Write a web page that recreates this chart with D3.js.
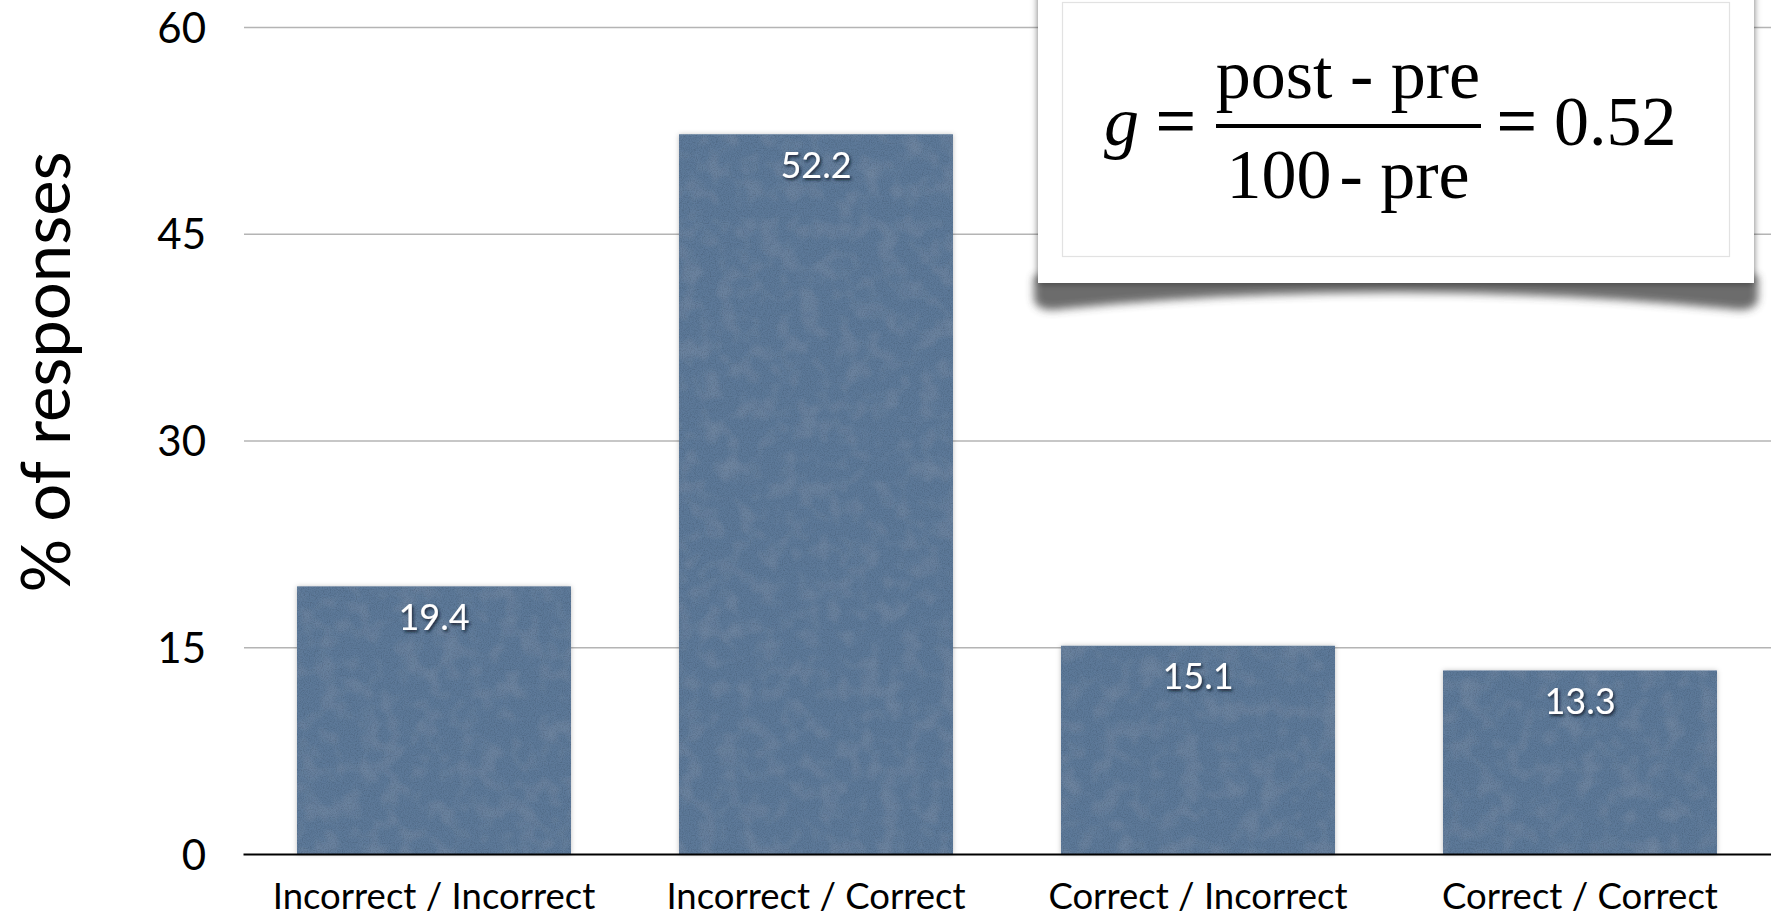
<!DOCTYPE html>
<html>
<head>
<meta charset="utf-8">
<script src="https://cdn.jsdelivr.net/npm/d3@7"></script>
<style>
  html, body { margin: 0; padding: 0; background: #fff; }
  svg { display: block; }
</style>
</head>
<body>
<svg id="chart" width="1771" height="917" font-family="Lato, 'Open Sans', sans-serif"></svg>
<script>
// Response transitions (pre / post), % of responses
const categories = ["Incorrect / Incorrect", "Incorrect / Correct", "Correct / Incorrect", "Correct / Correct"];
const values = [19.4, 52.2, 15.1, 13.3];
const yTicks = [0, 15, 30, 45, 60];
const yTitle = "% of responses";
const gainValue = "0.52";

const plot = { left: 243, right: 1771, top: 27, bottom: 854 };
const sans = "Lato, 'Open Sans', sans-serif";
const serif = "'Liberation Serif', 'Times New Roman', serif";

const svg = d3.select("#chart");
const defs = svg.append("defs");

// grainy paper texture for the bars
const tex = defs.append("filter").attr("id", "grain")
  .attr("x", 0).attr("y", 0).attr("width", 1).attr("height", 1);
tex.append("feTurbulence").attr("type", "fractalNoise")
  .attr("baseFrequency", 0.85).attr("numOctaves", 2).attr("seed", 4).attr("result", "fine");
tex.append("feColorMatrix").attr("in", "fine").attr("type", "matrix")
  .attr("values", "0 0 0 0 0  0 0 0 0 0  0 0 0 0 0  0 0 0 -0.6 0.36").attr("result", "fineA");
tex.append("feTurbulence").attr("type", "fractalNoise")
  .attr("baseFrequency", 0.05).attr("numOctaves", 2).attr("seed", 9).attr("result", "coarse");
tex.append("feColorMatrix").attr("in", "coarse").attr("type", "matrix")
  .attr("values", "0 0 0 0 1  0 0 0 0 1  0 0 0 0 1  0 0 0 -0.12 0.07").attr("result", "coarseA");
tex.append("feComposite").attr("in", "fineA").attr("in2", "SourceGraphic").attr("operator", "in").attr("result", "fineIn");
tex.append("feComposite").attr("in", "coarseA").attr("in2", "SourceGraphic").attr("operator", "in").attr("result", "coarseIn");
const texMerge = tex.append("feMerge");
texMerge.append("feMergeNode").attr("in", "SourceGraphic");
texMerge.append("feMergeNode").attr("in", "coarseIn");
texMerge.append("feMergeNode").attr("in", "fineIn");

// soft shadow behind the bars
const barShadow = defs.append("filter").attr("id", "barShadow")
  .attr("x", -0.1).attr("y", -0.1).attr("width", 1.2).attr("height", 1.2);
barShadow.append("feDropShadow").attr("dx", 0).attr("dy", 0)
  .attr("stdDeviation", 2.5).attr("flood-color", "#000").attr("flood-opacity", 0.25);

// text shadow for the value labels
const txtShadow = defs.append("filter").attr("id", "txtShadow")
  .attr("x", -0.3).attr("y", -0.3).attr("width", 1.6).attr("height", 1.6);
txtShadow.append("feDropShadow").attr("dx", 1.5).attr("dy", 2)
  .attr("stdDeviation", 1.6).attr("flood-color", "#0b1526").attr("flood-opacity", 0.85);

// shadows for the formula card
const cardShadow = defs.append("filter").attr("id", "cardShadow")
  .attr("x", -0.05).attr("y", -0.1).attr("width", 1.1).attr("height", 1.2);
cardShadow.append("feDropShadow").attr("dx", 0).attr("dy", 0)
  .attr("stdDeviation", 3.5).attr("flood-color", "#000").attr("flood-opacity", 0.55);
const curlBlur = defs.append("filter").attr("id", "curlBlur")
  .attr("x", -0.1).attr("y", -1).attr("width", 1.2).attr("height", 3);
curlBlur.append("feGaussianBlur").attr("stdDeviation", 4);

// scales
const y = d3.scaleLinear().domain([0, 60]).range([plot.bottom, plot.top]);
const x = d3.scaleBand().domain(categories)
  .range([plot.left, plot.right])
  .paddingInner(0.283).paddingOuter(0.1415);

// y axis with full-width gridlines
const yAxis = svg.append("g")
  .attr("transform", `translate(${plot.left + 1},0)`)
  .call(d3.axisLeft(y).tickValues(yTicks)
    .tickSizeInner(-(plot.right - plot.left)).tickSizeOuter(0).tickPadding(38));
yAxis.select(".domain").remove();
yAxis.selectAll(".tick line").attr("stroke", "#b4b4b4").attr("stroke-width", 1.6);
yAxis.selectAll(".tick text")
  .attr("font-family", sans).attr("font-size", 42)
  .attr("fill", "#000").attr("dy", "0.36em");
yAxis.selectAll(".tick").filter(d => d === 0).select("line").remove();

// y title
svg.append("text")
  .attr("transform", "translate(70,372) rotate(-90)")
  .attr("text-anchor", "middle")
  .attr("font-family", sans)
  .attr("font-size", 67)
  .attr("fill", "#000")
  .text(yTitle);

// bars
svg.append("g").selectAll("rect")
  .data(values)
  .join("rect")
  .attr("x", (d, i) => x(categories[i]))
  .attr("y", d => y(d))
  .attr("width", x.bandwidth())
  .attr("height", d => y(0) - y(d))
  .attr("fill", "#5d7999")
  .attr("filter", "url(#barShadow)");
svg.append("g").selectAll("rect")
  .data(values)
  .join("rect")
  .attr("x", (d, i) => x(categories[i]))
  .attr("y", d => y(d))
  .attr("width", x.bandwidth())
  .attr("height", d => y(0) - y(d))
  .attr("fill", "#5d7999")
  .attr("filter", "url(#grain)");

// value labels
svg.append("g").selectAll("text")
  .data(values)
  .join("text")
  .attr("x", (d, i) => x(categories[i]) + x.bandwidth() / 2)
  .attr("y", d => y(d) + 43)
  .attr("text-anchor", "middle")
  .attr("font-family", sans)
  .attr("font-size", 36)
  .attr("fill", "#fff")
  .attr("filter", "url(#txtShadow)")
  .text(d => d.toFixed(1));

// x axis
const xAxis = svg.append("g")
  .attr("transform", `translate(0,${plot.bottom})`)
  .call(d3.axisBottom(x).tickSize(0).tickPadding(29));
xAxis.select(".domain").attr("stroke", "#000").attr("stroke-width", 2);
xAxis.selectAll(".tick text")
  .attr("font-family", sans).attr("font-size", 36.5).attr("fill", "#000");

// gain formula card
const card = svg.append("g");
card.append("path")
  .attr("d", "M1034,276 L1034,300 Q1038,313 1062,309 Q1396,276 1730,309 Q1754,313 1758,300 L1758,276 Z")
  .attr("fill", "#3a3a3a").attr("opacity", 0.75)
  .attr("filter", "url(#curlBlur)");
card.append("rect")
  .attr("x", 1038).attr("y", -20).attr("width", 716).attr("height", 303)
  .attr("fill", "#fff").attr("filter", "url(#cardShadow)");
card.append("rect")
  .attr("x", 1062.5).attr("y", 2.5).attr("width", 667).attr("height", 254)
  .attr("fill", "#fff").attr("stroke", "#e2e2e2").attr("stroke-width", 1.2);

card.append("text")
  .attr("x", 1104).attr("y", 145)
  .attr("font-family", serif).attr("font-size", 70).attr("font-style", "italic")
  .text("g");
card.append("text")
  .attr("x", 1156).attr("y", 145)
  .attr("font-family", serif).attr("font-size", 70)
  .attr("stroke", "#000").attr("stroke-width", 1)
  .text("=");
card.append("text")
  .attr("x", 1348).attr("y", 98).attr("text-anchor", "middle")
  .attr("font-family", serif).attr("font-size", 70)
  .text("post - pre");
card.append("line")
  .attr("x1", 1216).attr("x2", 1481).attr("y1", 126).attr("y2", 126)
  .attr("stroke", "#000").attr("stroke-width", 4);
const den = card.append("text")
  .attr("x", 1348).attr("y", 198).attr("text-anchor", "middle")
  .attr("font-family", serif).attr("font-size", 70);
den.append("tspan").text("100");
den.append("tspan").attr("dx", 8).text("- pre");
const rhs = card.append("text")
  .attr("x", 1497).attr("y", 145)
  .attr("font-family", serif).attr("font-size", 70);
rhs.append("tspan").attr("stroke", "#000").attr("stroke-width", 1).text("=");
rhs.append("tspan").text(" " + gainValue);
</script>
</body>
</html>
